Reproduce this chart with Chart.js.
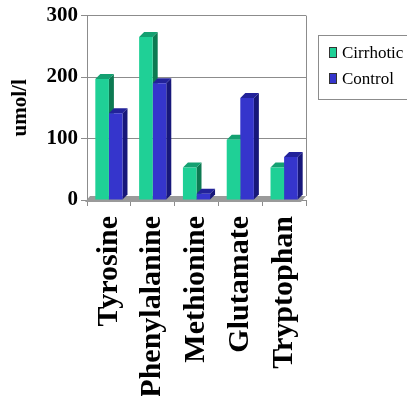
<!DOCTYPE html>
<html>
<head>
<meta charset="utf-8">
<script src="https://cdn.jsdelivr.net/npm/chart.js@4/dist/chart.umd.min.js"></script>
<style>
html, body { margin: 0; padding: 0; overflow: hidden; background: #fff; }
</style>
</head>
<body>
<canvas id="barChart" width="407" height="396"></canvas>
<script>
// categories and series
var categories = ["Tyrosine", "Phenylalanine", "Methionine", "Glutamate", "Tryptophan"];
var cirrhotic = [197, 265, 53, 98, 53];
var control = [141, 190, 10, 166, 70];
var yTicks = [0, 100, 200, 300];

var DEPTH = 5;
var SERIF = 'Liberation Serif, "Times New Roman", Times, serif';

// 3D side/top faces and floor, drawn under the front faces
var bar3d = {
  id: 'bar3d',
  beforeDatasetsDraw: function (chart) {
    var ctx = chart.ctx;
    var a = chart.chartArea;
    ctx.save();
    // floor
    ctx.fillStyle = '#9a9a9a';
    ctx.beginPath();
    ctx.moveTo(a.left - 2, a.bottom + 2);
    ctx.lineTo(a.right - DEPTH, a.bottom + 2);
    ctx.lineTo(a.right, a.bottom - DEPTH + 1);
    ctx.lineTo(a.left + DEPTH - 2, a.bottom - DEPTH + 1);
    ctx.closePath();
    ctx.fill();
    // right wall edge
    ctx.strokeStyle = '#8c8c8c';
    ctx.lineWidth = 1;
    ctx.beginPath();
    ctx.moveTo(a.right + 0.5, a.top);
    ctx.lineTo(a.right + 0.5, a.bottom - DEPTH + 1);
    ctx.stroke();

    chart.data.datasets.forEach(function (ds, i) {
      var meta = chart.getDatasetMeta(i);
      meta.data.forEach(function (bar) {
        var p = bar.getProps(['x', 'y', 'base', 'width'], true);
        var l = p.x - p.width / 2, r = p.x + p.width / 2;
        // side
        ctx.fillStyle = ds.sideColor;
        ctx.beginPath();
        ctx.moveTo(r, p.y);
        ctx.lineTo(r + DEPTH, p.y - DEPTH);
        ctx.lineTo(r + DEPTH, p.base - DEPTH);
        ctx.lineTo(r, p.base);
        ctx.closePath();
        ctx.fill();
        // top
        ctx.fillStyle = ds.topColor;
        ctx.beginPath();
        ctx.moveTo(l, p.y);
        ctx.lineTo(l + DEPTH, p.y - DEPTH);
        ctx.lineTo(r + DEPTH, p.y - DEPTH);
        ctx.lineTo(r, p.y);
        ctx.closePath();
        ctx.fill();
      });
    });
    ctx.restore();
  }
};

// boxed legend on the right
var boxLegend = {
  id: 'boxLegend',
  afterDraw: function (chart) {
    var ctx = chart.ctx;
    ctx.save();
    ctx.fillStyle = '#fff';
    ctx.fillRect(318.5, 35.5, 100, 64);
    ctx.strokeStyle = '#8c8c8c';
    ctx.lineWidth = 1;
    ctx.strokeRect(318.5, 35.5, 100, 64);
    ctx.font = '400 17px "Liberation Serif"';
    ctx.textBaseline = 'alphabetic';
    chart.data.datasets.forEach(function (ds, i) {
      var y = 47 + i * 26;
      ctx.fillStyle = ds.backgroundColor;
      ctx.fillRect(329, y, 8, 11);
      ctx.strokeStyle = '#333';
      ctx.strokeRect(329.5, y + 0.5, 7, 10);
      ctx.fillStyle = '#000';
      ctx.fillText(ds.label, 342, y + 11);
    });
    ctx.restore();
  }
};

var ctx = document.getElementById("barChart");
var myChart = new Chart(ctx, {
  type: 'bar',
  data: {
    labels: categories,
    datasets: [
      {
        label: "Cirrhotic",
        data: cirrhotic,
        backgroundColor: "#1fd096",
        sideColor: "#0d7a52",
        topColor: "#14a071",
        borderWidth: 0
      },
      {
        label: "Control",
        data: control,
        backgroundColor: "#3535cc",
        sideColor: "#17177a",
        topColor: "#22229a",
        borderWidth: 0
      }
    ]
  },
  options: {
    responsive: false,
    animation: false,
    layout: { padding: { top: 15, right: 101, left: 8, bottom: 0 } },
    datasets: {
      bar: { categoryPercentage: 0.62, barPercentage: 1.0 }
    },
    plugins: {
      legend: { display: false },
      tooltip: { enabled: false }
    },
    scales: {
      x: {
        ticks: {
          minRotation: 90,
          maxRotation: 90,
          color: '#000',
          padding: 10,
          font: { family: SERIF, size: 30, weight: 'bold' }
        },
        grid: { offset: true, drawOnChartArea: false, tickLength: 6, color: '#8c8c8c' },
        border: { color: '#8c8c8c' },
        afterFit: function (scale) { scale.height = 196; }
      },
      y: {
        min: 0,
        max: 300,
        afterBuildTicks: function (scale) {
          scale.ticks = yTicks.map(function (v) { return { value: v }; });
        },
        afterFit: function (scale) { scale.width = 79; },
        ticks: {
          color: '#000',
          padding: 3,
          font: { family: SERIF, size: 21, weight: 'bold' }
        },
        grid: { color: '#8c8c8c', tickLength: 6 },
        border: { color: '#8c8c8c' },
        title: {
          display: true,
          text: 'umol/l',
          color: '#000',
          padding: 0,
          font: { family: SERIF, size: 21, weight: 'bold' }
        }
      }
    }
  },
  plugins: [bar3d, boxLegend]
});
</script>
</body>
</html>
